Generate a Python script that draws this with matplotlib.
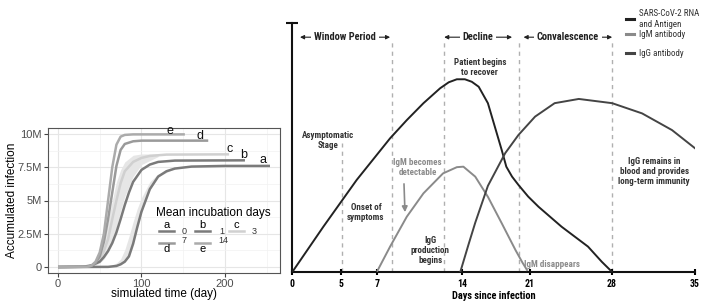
import numpy as np
import matplotlib
matplotlib.use("Agg")
import matplotlib.pyplot as plt
from matplotlib import font_manager
from matplotlib.ticker import MultipleLocator

# ---------------- left panel data (values in millions) ----------------
a_days = [0, 60, 70, 75, 80, 85, 90, 95, 100, 105, 110, 120, 130, 140, 160, 200, 254]
a_vals = [0, 0.01, 0.08, 0.2, 0.4, 0.8, 1.75, 3.0, 4.16, 5.0, 5.85, 6.8, 7.2, 7.4, 7.55, 7.6, 7.6]
b_days = [0, 30, 40, 50, 55, 60, 65, 70, 75, 80, 85, 90, 100, 110, 120, 140, 224]
b_vals = [0, 0.02, 0.12, 0.4, 0.75, 1.2, 1.8, 2.6, 3.6, 4.66, 5.6, 6.4, 7.3, 7.7, 7.9, 8.0, 8.02]
c_days = [0, 35, 40, 45, 50, 55, 60, 65, 70, 75, 80, 90, 100, 110, 130, 205]
c_vals = [0, 0.03, 0.1, 0.3, 0.6, 1.2, 2.1, 3.6, 5.0, 6.3, 7.2, 7.9, 8.2, 8.35, 8.45, 8.47]
d_days = [0, 35, 40, 45, 50, 55, 60, 65, 70, 75, 80, 90, 100, 180]
d_vals = [0, 0.02, 0.08, 0.3, 0.8, 1.9, 3.6, 5.6, 7.6, 8.8, 9.25, 9.45, 9.5, 9.5]
e_days = [0, 35, 40, 45, 50, 55, 60, 65, 70, 75, 80, 90, 152]
e_vals = [0, 0.02, 0.1, 0.4, 1.1, 2.5, 5.0, 7.5, 9.2, 9.8, 9.93, 9.97, 9.97]

# light ribbons behind the lines
c_band_days = [35, 40, 45, 50, 55, 60, 65, 70, 75, 80, 90, 100, 120]
c_band_hi = [0.05, 0.2, 0.5, 1.0, 2.0, 3.4, 5.0, 6.4, 7.3, 7.9, 8.4, 8.5, 8.5]
c_band_lo = [0.0, 0.05, 0.15, 0.3, 0.6, 1.1, 1.9, 3.0, 4.2, 5.3, 6.8, 7.7, 8.3]
a_band_days = [60, 70, 75, 80, 85, 90, 95, 100, 110, 120, 140]
a_band_hi = [0.03, 0.3, 0.6, 1.3, 2.3, 3.4, 4.4, 5.2, 6.4, 7.0, 7.45]
a_band_lo = [0.0, 0.08, 0.2, 0.45, 0.9, 1.8, 3.0, 4.1, 5.8, 6.8, 7.4]

curve_keys = ["a", "b", "c", "d", "e"]
incubation = ["0", "1", "3", "7", "14"]
curve_colors = ["#7a7a7a", "#7a7a7a", "#d0d0d0", "#9a9a9a", "#ababab"]
label_pos = [(246, 8.05), (222, 8.42), (206, 8.87), (170, 9.87), (134, 10.2)]

# ---------------- right panel data (schematic units) ----------------
day_ticks = ["0", "5", "7", "14", "21", "28", "35"]
tick_at = [0, 4.23, 7.34, 14.73, 20.67, 27.77, 35]

rna_x = [0, 2.7, 5.6, 8.5, 9.95, 11.4, 12.85, 13.6, 14.3, 15.0, 15.6, 16.2, 17.0, 17.6, 18.2,
         18.6, 19.1, 19.65, 20.5, 21.4, 23.4, 25.7, 26.9, 27.8]
rna_y = [0, 18.2, 37, 53.7, 61, 67.8, 73.8, 76.2, 77.4, 77.4, 76.4, 74.4, 67.8, 58.4, 49,
         42.3, 38.3, 35, 30.3, 26.2, 18.2, 10.2, 4.1, 0]
igm_x = [7.4, 8.5, 9.95, 11.4, 13.1, 14.3, 14.87, 15.9, 17.0, 18.2, 19.4, 20.0, 20.4]
igm_y = [0.5, 10.2, 22.2, 31.6, 39.6, 42.1, 42.3, 38.3, 30.2, 19.6, 8.8, 3.8, 0.8]
igg_x = [14.6, 15.3, 15.9, 17.0, 18.5, 19.65, 21.1, 22.8, 24.9, 27.8, 30.4, 33.0, 35]
igg_y = [0, 10.8, 19.8, 34.6, 47.7, 55, 62.4, 67.8, 69.5, 67.8, 63.7, 57, 49.7]

phase_lines = [8.66, 13.2, 19.7, 27.8]
phases = ["Window Period", "Decline", "Convalescence"]
phase_span = [(0.67, 8.5), (13.2, 19.1), (20.1, 27.8)]

# pick a narrow bold face for the schematic, fall back to a plain one
fonts = font_manager.fontManager.ttflist
names = {f.name for f in fonts}
if "Roboto Condensed" in names:
    cond, stretch, k = "Roboto Condensed", "normal", 1.0
elif "Liberation Sans Narrow" in names:
    cond, stretch, k = "Liberation Sans Narrow", "normal", 1.0
elif any(f.name == "DejaVu Sans" and f.stretch == "condensed" for f in fonts):
    cond, stretch, k = "DejaVu Sans", "condensed", 0.82
else:
    cond, stretch, k = "Liberation Sans", "normal", 0.85
left_font = ["Liberation Sans", "DejaVu Sans"]

fig = plt.figure(figsize=(7.09, 3.06), dpi=100)
W, H = 709.0, 306.0

def fx(px):
    return px / W

def fy(py):
    return 1 - py / H

# ================= left panel =================
ax1 = fig.add_axes([fx(48), fy(273), 232 / W, 145 / H])
ax1.set_xlim(-12, 266)
ax1.set_ylim(-0.45, 10.45)
ax1.xaxis.set_major_locator(MultipleLocator(100))
ax1.xaxis.set_minor_locator(MultipleLocator(50))
ax1.yaxis.set_minor_locator(MultipleLocator(1.25))
ax1.grid(which="major", color="#e6e6e6", lw=0.8)
ax1.grid(which="minor", color="#f2f2f2", lw=0.5)
ax1.set_axisbelow(True)
ax1.set_yticks([0, 2.5, 5, 7.5, 10])
ax1.set_yticklabels(["0", "2.5M", "5M", "7.5M", "10M"])
ax1.tick_params(which="major", length=3, color="#444444", labelcolor="#4d4d4d",
                labelsize=8, pad=1.5)
ax1.tick_params(which="minor", length=0)
for lab in ax1.get_xticklabels() + ax1.get_yticklabels():
    lab.set_family(left_font)
for s in ax1.spines.values():
    s.set_color("#555555")
    s.set_linewidth(0.8)

ax1.fill_between(c_band_days, c_band_lo, c_band_hi, color="#e6e6e6", lw=0)
ax1.fill_between(a_band_days, a_band_lo, a_band_hi, color="#e6e6e6", lw=0)

series = [(a_days, a_vals), (b_days, b_vals), (c_days, c_vals), (d_days, d_vals), (e_days, e_vals)]
order = [2, 0, 1, 3, 4]
for i in order:
    dd, vv = series[i]
    ax1.plot(dd, vv, color=curve_colors[i], lw=1.8, solid_capstyle="butt")
for key, (lx, ly) in zip(curve_keys, label_pos):
    ax1.text(lx, ly, key, fontsize=9, ha="center", va="center", color="#111111",
             family=left_font)

ax1.set_xlabel("simulated time (day)", fontsize=8.5, family=left_font)
ax1.set_ylabel("Accumulated infection", fontsize=8.5, family=left_font)
ax1.yaxis.set_label_coords(-0.13, 0.5)
ax1.xaxis.set_label_coords(0.5, -0.105)

# legend drawn by hand
fig.text(fx(156), fy(213), "Mean incubation days", fontsize=8.5, va="center", ha="left",
         family=left_font)
key_x = [(159, 174), (195, 210), (229, 244), (159, 174), (195, 210)]
key_row = [231, 231, 231, 242.5, 242.5]
lab_x = [182, 219, 252, 182, 218]
for i, key in enumerate(curve_keys):
    x0, x1 = key_x[i]
    ry = key_row[i]
    fig.add_artist(plt.Line2D([fx(x0), fx(x1)], [fy(ry), fy(ry)], color=curve_colors[i], lw=1.8,
                              transform=fig.transFigure))
    if ry < 235:
        fig.text(fx((x0 + x1) / 2), fy(ry - 1.5), key, fontsize=8, ha="center", va="bottom",
                 family=left_font)
    else:
        fig.text(fx((x0 + x1) / 2), fy(ry + 1.5), key, fontsize=8, ha="center", va="top",
                 family=left_font)
    fig.text(fx(lab_x[i]), fy(ry + (1 if ry < 235 else -2)), incubation[i], fontsize=6.5,
             color="#333333", ha="left", va="center", family=left_font)

# ================= right panel =================
ink = "#333333"
ax2 = fig.add_axes([fx(292.3), fy(272), 402.7 / W, 249 / H])
ax2.set_xlim(0, 35)
ax2.set_ylim(0, 100)
for s in ["top", "right"]:
    ax2.spines[s].set_visible(False)
for s in ["left", "bottom"]:
    ax2.spines[s].set_linewidth(1.5)
    ax2.spines[s].set_color("#111111")
ax2.set_yticks([])
ax2.set_xticks(tick_at)
ax2.set_xticklabels(day_ticks, fontsize=7 * k, fontweight="bold", family=cond,
                    fontstretch=stretch)
ax2.tick_params(axis="x", direction="inout", length=5, width=1.5, pad=2.5)
ax2.plot([0], [100], marker="_", ms=8, mew=1.5, color="#111111", clip_on=False)
ax2.set_xlabel("Days since infection", fontsize=7.5 * k, fontweight="bold", family=cond,
               fontstretch=stretch)
ax2.xaxis.set_label_coords(0.5, -0.075)

for xv in phase_lines:
    ax2.plot([xv, xv], [0, 92.4], color="#b0b0b0", lw=1, dashes=(3, 3), zorder=1)
ax2.plot([4.3, 4.3], [0, 52], color="#b0b0b0", lw=1, dashes=(3, 3), zorder=1)

ax2.plot(rna_x, rna_y, color="#222222", lw=1.4, zorder=3)
ax2.plot(igm_x, igm_y, color="#8a8a8a", lw=1.4, zorder=3)
ax2.plot(igg_x, igg_y, color="#444444", lw=1.4, zorder=3)

for name, (x0, x1) in zip(phases, phase_span):
    ax2.annotate("", xy=(x0, 94.3), xytext=(x1, 94.3),
                 arrowprops=dict(arrowstyle="<|-|>", color="#222222", lw=0.8,
                                 mutation_scale=6, shrinkA=0, shrinkB=0))
    ax2.text((x0 + x1) / 2, 94.3, name, fontsize=7.5 * k, fontweight="bold", family=cond,
             fontstretch=stretch, color="#222222", ha="center", va="center",
             bbox=dict(facecolor="white", edgecolor="none", pad=2))

txt = dict(fontsize=6.5 * k, fontweight="bold", family=cond, fontstretch=stretch,
           ha="center", va="center", linespacing=1.15)
ax2.text(3.1, 52.8, "Asymptomatic\nStage", color=ink, **txt)
ax2.text(16.3, 82, "Patient begins\nto recover", color=ink, **txt)
ax2.text(6.4, 24, "Onset of\nsymptoms", color=ink, **txt)
ax2.text(10.9, 41.8, "IgM becomes\ndetectable", color="#8a8a8a", **txt)
ax2.text(12.0, 8.6, "IgG\nproduction\nbegins", color=ink, **txt)
ax2.text(22.55, 3.2, "IgM disappears", color="#8a8a8a", **txt)
ax2.text(31.45, 40.2, "IgG remains in\nblood and provides\nlong-term immunity", color=ink, **txt)
ax2.annotate("", xy=(9.8, 22.9), xytext=(9.7, 36.5),
             arrowprops=dict(arrowstyle="-|>", color="#8a8a8a", lw=1.2, mutation_scale=8))

# right legend
leg_names = ["SARS-CoV-2 RNA\nand Antigen", "IgM antibody", "IgG antibody"]
leg_colors = ["#222222", "#8a8a8a", "#444444"]
leg_rows = [19, 34.3, 53.3]
for name, col, ry in zip(leg_names, leg_colors, leg_rows):
    fig.add_artist(plt.Line2D([fx(626), fx(634)], [fy(ry), fy(ry)], color=col, lw=2.2,
                              transform=fig.transFigure))
    fig.text(fx(639), fy(ry), name, fontsize=6.5 * k, family=cond, fontstretch=stretch,
             color=ink, ha="left", va="center", linespacing=1.3)

fig.savefig("out.png", dpi=100)
